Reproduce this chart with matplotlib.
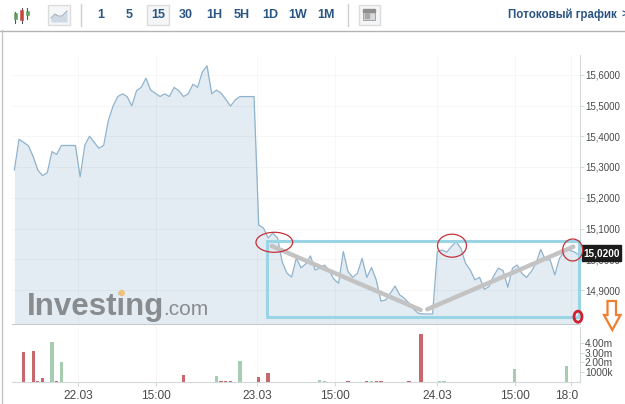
import numpy as np
import matplotlib
matplotlib.use("Agg")
import matplotlib.pyplot as plt
from matplotlib.patches import Ellipse, Polygon, Rectangle
from matplotlib.transforms import ScaledTranslation

plt.rcParams['font.family'] = ['Liberation Sans', 'DejaVu Sans']

W, H = 625, 404

# 15 minute closes
price = [15.290, 15.390, 15.380, 15.369, 15.334, 15.290, 15.272, 15.281, 15.350, 15.341,
         15.370, 15.370, 15.370, 15.370, 15.268, 15.371, 15.400, 15.380, 15.361, 15.370,
         15.451, 15.498, 15.529, 15.538, 15.529, 15.499, 15.548, 15.559, 15.589, 15.550,
         15.540, 15.529, 15.538, 15.529, 15.559, 15.548, 15.529, 15.538, 15.569, 15.559,
         15.609, 15.629, 15.538, 15.550, 15.540, 15.520, 15.498, 15.518, 15.529, 15.529,
         15.529, 15.529, 15.111, 15.102, 15.069, 15.085, 15.069, 14.991, 14.955, 14.942,
         15.004, 14.972, 14.985, 15.011, 14.965, 14.971, 14.981, 14.963, 14.935, 14.922,
         15.025, 14.960, 14.941, 14.954, 15.003, 14.941, 14.973, 14.933, 14.864, 14.867,
         14.889, 14.913, 14.884, 14.873, 14.857, 14.837, 14.824, 14.822, 14.822, 14.822,
         15.025, 15.030, 15.023, 15.041, 15.057, 15.036, 14.987, 14.965, 14.933, 14.941,
         14.902, 14.911, 14.946, 14.971, 14.963, 14.909, 14.971, 14.981, 14.954, 14.941,
         14.960, 14.987, 15.032, 14.998, 14.998, 14.949, 15.003, 15.025, 15.030, 15.025,
         15.015]

# volume bars: position in bar units, size in millions
red_pos = [2, 4, 5, 6, 9, 13, 14, 36, 40, 44, 45, 46, 52, 54, 55, 56, 57, 58, 59,
           67, 68, 69, 71, 72, 73, 74, 75, 77, 78, 80, 81, 82, 83, 84, 86.5]
red_vol = [3.07, 3.17, 0.1, 0.41, 0.1, 0.05, 0.05, 0.68, 0.05, 0.15, 0.06, 0.06, 0.51, 0.92, 0.04, 0.04, 0.04, 0.04, 0.04,
           0.05, 0.05, 0.05, 0.12, 0.05, 0.05, 0.05, 0.08, 0.15, 0.15, 0.05, 0.05, 0.05, 0.05, 0.12, 4.9]
green_pos = [8, 10, 23, 37, 39, 41, 42, 43, 48, 65, 66, 76, 90.4, 91.4, 92.3, 93.3, 94.4,
             98.4, 99.5, 100.5, 101.5, 104.4, 106.4, 110.5, 112.6, 117.5]
green_vol = [4.08, 2.04, 0.03, 0.03, 0.05, 0.05, 0.05, 0.58, 2.14, 0.25, 0.1, 0.1, 0.15, 0.15, 0.05, 0.05, 0.05,
             0.05, 0.05, 0.05, 0.05, 0.05, 1.33, 0.03, 0.03, 1.63]

x_ticks = [13.55, 30.1, 51.6, 68.2, 89.9, 106.5, 118.4]
x_labels = ['22.03', '15:00', '23.03', '15:00', '24.03', '15:00', '18:0']
price_ticks = [14.9, 15.0, 15.1, 15.2, 15.3, 15.4, 15.5, 15.6]
price_labels = ['14,9000', '15,0000', '15,1000', '15,2000', '15,3000', '15,4000', '15,5000', '15,6000']
vol_ticks = [1, 2, 3, 4]
vol_labels = ['1000k', '2.00m', '3.00m', '4.00m']
periods = ['1', '5', '15', '30', '1H', '5H', '1D', '1W', '1M']
period_centers = [101, 129.5, 158, 186, 214, 241.5, 270, 298, 325.7]

LINE = '#8fb3cd'
FILL = '#e3ecf3'
AXIS = '#d3d8db'
TEXT = '#4a4a4a'
NAVY = '#2b5583'
RED = '#c8686c'
GREEN = '#a5cdb0'


def box(left, top, right, bottom):
    return [left / W, 1 - bottom / H, (right - left) / W, (bottom - top) / H]


fig = plt.figure(figsize=(W / 100, H / 100), dpi=100, facecolor='white')

ax = fig.add_axes(box(12, 55, 580, 324))
vol = fig.add_axes(box(12, 327, 580, 382))
over = fig.add_axes([0, 0, 1, 1], facecolor='none')
over.set_xlim(0, W)
over.set_ylim(H, 0)
over.axis('off')

# price panel
idx = np.arange(len(price))
ax.fill_between(idx, price, 14.5, color=FILL, lw=0, zorder=1)
ax.plot(idx, price, color=LINE, lw=0.9, zorder=3)
ax.set_xlim(-0.5, 120.36)
ax.set_ylim(14.9 - 34 / 307.5, 14.9 + 235 / 307.5)
ax.set_xticks(x_ticks)
ax.set_xticklabels([])
ax.tick_params(axis='x', length=0)
ax.yaxis.tick_right()
ax.set_yticks(price_ticks)
ax.set_yticklabels(price_labels, fontsize=7, color=TEXT)
ax.tick_params(axis='y', length=3, width=0.7, color=AXIS, pad=0.5)
ax.grid(True, color='black', alpha=0.03, lw=0.7, zorder=2)
ax.set_axisbelow(False)
for side in ['top', 'left']:
    ax.spines[side].set_visible(False)
ax.spines['right'].set_color(AXIS)
ax.spines['bottom'].set_color('#c4cacd')

# volume panel
vol.bar(red_pos, red_vol, width=0.7, color=RED, zorder=3)
vol.bar(green_pos, green_vol, width=0.7, color=GREEN, zorder=3)
vol.set_xlim(-0.5, 120.36)
vol.set_ylim(0, 55 / 9.8)
vol.set_xticks(x_ticks)
vol.set_xticklabels(x_labels, fontsize=8.6, color=TEXT)
vol.tick_params(axis='x', length=3, width=0.7, color=AXIS, pad=3)
vol.yaxis.tick_right()
vol.set_yticks(vol_ticks)
vol.set_yticklabels(vol_labels, fontsize=7.3, color=TEXT)
vol.tick_params(axis='y', length=3, width=0.7, color=AXIS, pad=0.5)
vol.grid(True, axis='x', color='black', alpha=0.03, lw=0.7, zorder=1)
for side in ['top', 'left']:
    vol.spines[side].set_visible(False)
vol.spines['right'].set_color(AXIS)
vol.spines['bottom'].set_color(AXIS)
# the last label is cut off by the panel edge in the original
last = vol.get_xticklabels()[-1]
last.set_transform(last.get_transform() + ScaledTranslation(-3 / 72, 0, fig.dpi_scale_trans))

# price tag
over.add_patch(Rectangle((582.3, 245), 38.7, 16, color='#1c1c1c', zorder=5))
over.text(601.6, 253.2, '15,0200', color='white', fontsize=7.2, fontweight='bold', ha='center', va='center', zorder=6)

# logo
over.text(27, 315, 'Investing', fontsize=22.5, fontweight='bold', color='#898c8f', va='baseline', zorder=4)
over.text(163, 315, '.com', fontsize=15, color='#898c8f', va='baseline', zorder=4)
over.add_patch(Ellipse((121.7, 293), 5, 5, color='#eec27a', zorder=5))

# hand drawn marks on top of the screenshot
over.add_patch(Rectangle((266.7, 240.7), 312.3, 76, fill=False, ec='#9ad5e6', lw=2.2, zorder=6))
over.plot([271.7, 420.7], [246, 310], color='#c3c3c3', lw=3.2, solid_capstyle='round', zorder=7)
over.plot([427.3, 573.3], [309.3, 246.7], color='#c3c3c3', lw=3.2, solid_capstyle='round', zorder=7)
for cx, cy, ew, eh in [(274.3, 242.3, 36.7, 20), (452, 245.7, 29, 23), (572.7, 250, 20, 22)]:
    over.add_patch(Ellipse((cx, cy), ew, eh, fill=False, ec='#c5303a', lw=0.9, zorder=8))
over.add_patch(Ellipse((578, 316.7), 8, 11, fill=False, ec='#cf1f2e', lw=2, zorder=8))
arrow = [(607.5, 301), (616, 301), (616, 315), (620.5, 315), (612.3, 330), (604, 315), (607.5, 315)]
over.add_patch(Polygon(arrow, closed=True, fill=False, ec='#ef7f2f', lw=1.6, zorder=8))

# toolbar
over.plot([0, W], [30.5, 30.5], color='#b3b3b3', lw=1)
over.plot([1.5, 1.5], [30, H], color='#c4c4c4', lw=1)
over.plot([80.5, 80.5], [4, 26], color='#cfcfcf', lw=1)
over.plot([347.5, 347.5], [4, 26], color='#cfcfcf', lw=1)
for left in [48, 147, 358.5]:
    over.add_patch(Rectangle((left, 4.5), 21.5, 20.5, fc='#f4f6f8', ec='#dcdcdc', lw=1))
for label, cx in zip(periods, period_centers):
    over.text(cx, 15, label, fontsize=9, fontweight='bold', color=NAVY, ha='center', va='center', zorder=4)
over.text(507.7, 15, 'Потоковый график', fontsize=8.3, fontweight='bold', color=NAVY, ha='left', va='center')
over.text(621, 15, '>', fontsize=8, fontweight='bold', color=NAVY, ha='left', va='center')

# candle icon
for cx, wick, body, col in [(15, (12, 23), (13, 19), '#5f9e5f'), (21.5, (8, 23), (10, 20), '#c9453f'),
                            (27, (8, 19), (11, 15), '#5f9e5f')]:
    over.plot([cx, cx], wick, color='#555555', lw=0.8)
    over.add_patch(Rectangle((cx - 1.5, body[0]), 3, body[1] - body[0], fc=col, ec=col, lw=0.4, zorder=3))

# line icon
icon_x = [51, 55, 58, 62, 67]
icon_y = [18, 14, 16, 16, 11]
over.fill_between(icon_x, icon_y, 22, color='#cfd9e6', lw=0, zorder=3)
over.plot(icon_x, icon_y, color='#9aa9bb', lw=0.7, zorder=3)

# news icon
over.add_patch(Rectangle((363, 9), 12, 11, fc='#d9d9d9', ec='#9a9a9a', lw=0.6, zorder=3))
over.add_patch(Rectangle((363, 9), 12, 2.5, color='#8f8f8f', zorder=4))
over.add_patch(Rectangle((364.5, 13), 4, 5, color='#a8a8a8', zorder=4))

fig.savefig('out.png', dpi=100)
